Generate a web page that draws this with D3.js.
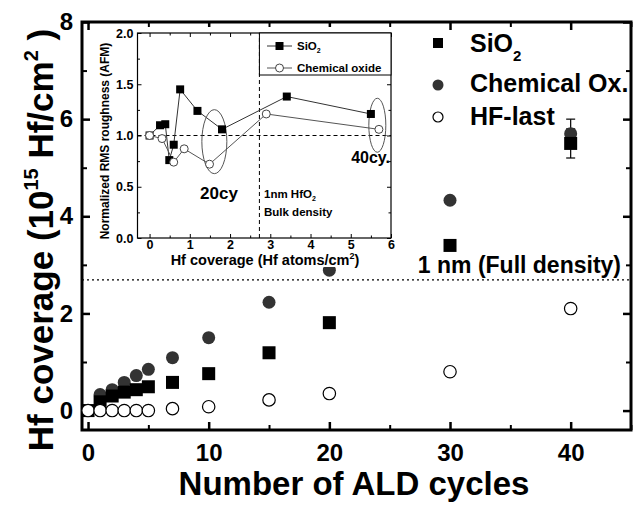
<!DOCTYPE html>
<html lang="en">
<head>
<meta charset="utf-8">
<style>
body { margin: 0; background: #fff; }
text { font-family: "Liberation Sans", Arial, sans-serif; font-weight: bold; fill: #000; }
.frame { fill: none; stroke: #000; stroke-width: 3px; }
.tick line { stroke: #000; }
.domain { display: none; }
</style>
</head>
<body>
<svg width="637" height="505"></svg>
<script src="https://d3js.org/d3.v7.min.js"></script>
<script>

// main chart data: Hf coverage (1e15 Hf/cm2) vs number of ALD cycles
var cycles = [0, 1, 2, 3, 4, 5, 7, 10, 15, 20, 30, 40];
var sio2   = [0, 0.18, 0.30, 0.38, 0.43, 0.49, 0.58, 0.76, 1.19, 1.81, 3.40, 5.50];
var chemOx = [0, 0.33, 0.43, 0.58, 0.72, 0.85, 1.09, 1.50, 2.23, 2.89, 4.33, 5.70];
var hfLast = [0, 0, 0, 0, 0, 0, 0.04, 0.08, 0.22, 0.35, 0.80, 2.10];
var errCycle = 40, sio2Err = 0.3, chemErr = 0.3;
var fullDensity = 2.69;
var xTicks = [0, 10, 20, 30, 40];
var yTicks = [0, 2, 4, 6, 8];

// inset data: normalized RMS roughness vs Hf coverage
var inSio2X = [0, 0.26, 0.39, 0.49, 0.60, 0.76, 1.19, 1.80, 3.41, 5.50];
var inSio2Y = [1.00, 1.10, 1.11, 0.76, 0.91, 1.45, 1.24, 1.06, 1.38, 1.21];
var inChemX = [0, 0.31, 0.60, 0.86, 1.49, 2.90, 5.70];
var inChemY = [1.00, 0.97, 0.74, 0.87, 0.72, 1.21, 1.06];
var bulkDensity = 2.73;
var inXTicks = [0, 1, 2, 3, 4, 5, 6];
var inYTicks = [0, 0.5, 1.0, 1.5, 2.0];

var svg = d3.select("svg");

var x = d3.scaleLinear().domain([-0.5, 45]).range([82, 631]);
var y = d3.scaleLinear().domain([-0.4, 8]).range([430, 22]);

// ticks, inward, on all four sides
function ticks(axis, tr, major, minor, labels) {
  var g = svg.append("g").attr("transform", tr).call(axis.tickValues(major).tickSize(-8).tickFormat(labels ? d3.format("d") : ""));
  g.selectAll("line").attr("stroke-width", 2.5);
  g.selectAll("text").attr("font-size", 24).attr("font-weight", "bold").attr("font-family", "Liberation Sans, Arial");
  var m = svg.append("g").attr("transform", tr).call(axis.tickValues(minor).tickSize(-5).tickFormat(""));
  m.selectAll("line").attr("stroke-width", 2);
  return g;
}
var gx = ticks(d3.axisBottom(x), "translate(0,430)", xTicks, [5, 15, 25, 35, 45], true);
gx.selectAll("text").attr("dy", "0").attr("y", 31);
ticks(d3.axisTop(x), "translate(0,22)", xTicks, [5, 15, 25, 35, 45], false);
var gy = ticks(d3.axisLeft(y), "translate(82,0)", yTicks, [1, 3, 5, 7], true);
gy.selectAll("text").attr("x", -9);
ticks(d3.axisRight(y), "translate(631,0)", yTicks, [1, 3, 5, 7], false);

svg.append("rect").attr("class", "frame")
  .attr("x", 82).attr("y", 22).attr("width", 631 - 82).attr("height", 430 - 22);

// full density line
svg.append("line")
  .attr("x1", 82).attr("x2", 631)
  .attr("y1", y(fullDensity)).attr("y2", y(fullDensity))
  .attr("stroke", "#000").attr("stroke-width", 1.2).attr("stroke-dasharray", "2,3");
svg.append("text").attr("x", 621).attr("y", 273).attr("text-anchor", "end")
  .attr("font-size", 23).text("1 nm (Full density)");

// error bars at 40 cycles
[[chemOx, chemErr], [sio2, sio2Err]].forEach(function(s) {
  var v = s[0][cycles.indexOf(errCycle)], e = s[1], cx = x(errCycle);
  var g = svg.append("g").attr("stroke", "#000").attr("stroke-width", 1.2);
  g.append("line").attr("x1", cx).attr("x2", cx).attr("y1", y(v - e)).attr("y2", y(v + e));
  g.append("line").attr("x1", cx - 4.5).attr("x2", cx + 4.5).attr("y1", y(v - e)).attr("y2", y(v - e));
  g.append("line").attr("x1", cx - 4.5).attr("x2", cx + 4.5).attr("y1", y(v + e)).attr("y2", y(v + e));
});

// points
svg.append("g").selectAll("circle").data(cycles).enter().append("circle")
  .attr("cx", function(d) { return x(d); })
  .attr("cy", function(d, i) { return y(chemOx[i]); })
  .attr("r", 6.5).attr("fill", "#333");
svg.append("g").selectAll("rect").data(cycles).enter().append("rect")
  .attr("x", function(d) { return x(d) - 6.5; })
  .attr("y", function(d, i) { return y(sio2[i]) - 6.5; })
  .attr("width", 13).attr("height", 13).attr("fill", "#000");
svg.append("g").selectAll("circle").data(cycles).enter().append("circle")
  .attr("cx", function(d) { return x(d); })
  .attr("cy", function(d, i) { return y(hfLast[i]); })
  .attr("r", 6.2).attr("fill", "#fff").attr("stroke", "#000").attr("stroke-width", 1.2);

// legend
var leg = svg.append("g");
leg.append("rect").attr("x", 433).attr("y", 38).attr("width", 10).attr("height", 10).attr("fill", "#000");
leg.append("circle").attr("cx", 438).attr("cy", 85).attr("r", 5.5).attr("fill", "#333");
leg.append("circle").attr("cx", 438).attr("cy", 117).attr("r", 5).attr("fill", "#fff").attr("stroke", "#000").attr("stroke-width", 1.2);
var t1 = leg.append("text").attr("x", 470).attr("y", 52).attr("font-size", 25);
t1.append("tspan").text("SiO");
t1.append("tspan").attr("font-size", 15).attr("dy", 9).text("2");
leg.append("text").attr("x", 470).attr("y", 92).attr("font-size", 25).text("Chemical Ox.");
leg.append("text").attr("x", 470).attr("y", 125).attr("font-size", 25).text("HF-last");

// axis titles
svg.append("text").attr("x", 354).attr("y", 495).attr("text-anchor", "middle")
  .attr("font-size", 33).text("Number of ALD cycles");
var yt = svg.append("text").attr("transform", "translate(53,240) rotate(-90)")
  .attr("text-anchor", "middle").attr("font-size", 35);
yt.append("tspan").text("Hf coverage (10");
yt.append("tspan").attr("font-size", 20).attr("dy", -15).text("15");
yt.append("tspan").attr("dy", 15).text(" Hf/cm");
yt.append("tspan").attr("font-size", 20).attr("dy", -15).text("2");
yt.append("tspan").attr("dy", 15).text(" )");

// ---------- inset ----------
var ix = d3.scaleLinear().domain([-0.3, 6]).range([137.5, 391]);
var iy = d3.scaleLinear().domain([0, 2]).range([238, 33]);

svg.append("rect").attr("x", 94).attr("y", 27).attr("width", 301).attr("height", 240).attr("fill", "#fff");

function iticks(axis, tr, major, minor, fmt) {
  var g = svg.append("g").attr("transform", tr).call(axis.tickValues(major).tickSize(-4).tickFormat(fmt));
  g.selectAll("line").attr("stroke-width", 1);
  g.selectAll("text").attr("font-size", 12.5).attr("font-weight", "bold").attr("font-family", "Liberation Sans, Arial");
  svg.append("g").attr("transform", tr).call(axis.tickValues(minor).tickSize(-2.5).tickFormat(""))
    .selectAll("line").attr("stroke-width", 1);
  return g;
}
var ixg = iticks(d3.axisBottom(ix), "translate(0,238)", inXTicks, [0.5, 1.5, 2.5, 3.5, 4.5, 5.5], d3.format("d"));
ixg.selectAll("text").attr("dy", 0).attr("y", 11);
iticks(d3.axisTop(ix), "translate(0,33)", inXTicks, [0.5, 1.5, 2.5, 3.5, 4.5, 5.5], "");
var iyg = iticks(d3.axisLeft(iy), "translate(137.5,0)", inYTicks, [0.25, 0.75, 1.25, 1.75], d3.format(".1f"));
iyg.selectAll("text").attr("x", -4);
iticks(d3.axisRight(iy), "translate(391,0)", inYTicks, [0.25, 0.75, 1.25, 1.75], "");

svg.append("rect").attr("x", 137.5).attr("y", 33).attr("width", 391 - 137.5).attr("height", 238 - 33)
  .attr("fill", "none").attr("stroke", "#000").attr("stroke-width", 1.2);

// reference lines
svg.append("line").attr("x1", 137.5).attr("x2", 391).attr("y1", iy(1)).attr("y2", iy(1))
  .attr("stroke", "#000").attr("stroke-width", 1).attr("stroke-dasharray", "4,3");
svg.append("line").attr("x1", ix(bulkDensity)).attr("x2", ix(bulkDensity)).attr("y1", 238).attr("y2", 33)
  .attr("stroke", "#000").attr("stroke-width", 1).attr("stroke-dasharray", "4,3");

var iline = d3.line().x(function(d) { return ix(d[0]); }).y(function(d) { return iy(d[1]); });
svg.append("path").datum(d3.zip(inSio2X, inSio2Y)).attr("d", iline)
  .attr("fill", "none").attr("stroke", "#333").attr("stroke-width", 1);
svg.append("path").datum(d3.zip(inChemX, inChemY)).attr("d", iline)
  .attr("fill", "none").attr("stroke", "#555").attr("stroke-width", 1);

// ellipses
svg.append("ellipse").attr("cx", ix(1.61)).attr("cy", iy(0.94)).attr("rx", 12.5).attr("ry", 32)
  .attr("fill", "none").attr("stroke", "#555").attr("stroke-width", 1);
svg.append("ellipse").attr("cx", ix(5.66)).attr("cy", iy(1.10)).attr("rx", 8.5).attr("ry", 27)
  .attr("fill", "none").attr("stroke", "#555").attr("stroke-width", 1);

svg.append("g").selectAll("rect").data(d3.zip(inSio2X, inSio2Y)).enter().append("rect")
  .attr("x", function(d) { return ix(d[0]) - 4; })
  .attr("y", function(d) { return iy(d[1]) - 4; })
  .attr("width", 8).attr("height", 8).attr("fill", "#000");
svg.append("g").selectAll("circle").data(d3.zip(inChemX, inChemY)).enter().append("circle")
  .attr("cx", function(d) { return ix(d[0]); })
  .attr("cy", function(d) { return iy(d[1]); })
  .attr("r", 4).attr("fill", "#fff").attr("stroke", "#444").attr("stroke-width", 1);

// inset legend
svg.append("rect").attr("x", ix(bulkDensity)).attr("y", 33).attr("width", 391 - ix(bulkDensity)).attr("height", 42)
  .attr("fill", "#fff").attr("stroke", "#000").attr("stroke-width", 1);
svg.append("line").attr("x1", 267).attr("x2", 292).attr("y1", 46).attr("y2", 46).attr("stroke", "#333");
svg.append("rect").attr("x", 275.5).attr("y", 42).attr("width", 8).attr("height", 8).attr("fill", "#000");
svg.append("line").attr("x1", 267).attr("x2", 292).attr("y1", 68).attr("y2", 68).attr("stroke", "#555");
svg.append("circle").attr("cx", 279.5).attr("cy", 68).attr("r", 4).attr("fill", "#fff").attr("stroke", "#444");
var lt = svg.append("text").attr("x", 297).attr("y", 50).attr("font-size", 11.5);
lt.append("tspan").text("SiO");
lt.append("tspan").attr("font-size", 7).attr("dy", 3).text("2");
svg.append("text").attr("x", 297).attr("y", 72).attr("font-size", 11.5).text("Chemical oxide");

// annotations
svg.append("text").attr("x", 219).attr("y", 199).attr("text-anchor", "middle").attr("font-size", 17).text("20cy");
svg.append("text").attr("x", 390).attr("y", 163).attr("text-anchor", "end").attr("font-size", 16).text("40cy.");
var nm = svg.append("text").attr("x", 264).attr("y", 198).attr("font-size", 11.5);
nm.append("tspan").text("1nm HfO");
nm.append("tspan").attr("font-size", 7).attr("dy", 3).text("2");
svg.append("text").attr("x", 264).attr("y", 216).attr("font-size", 11.5).text("Bulk density");

// inset axis titles
svg.append("text").attr("transform", "translate(109,141) rotate(-90)").attr("text-anchor", "middle")
  .attr("font-size", 12).text("Normalized RMS roughness (AFM)");
var it = svg.append("text").attr("x", 265).attr("y", 265).attr("text-anchor", "middle").attr("font-size", 14.5);
it.append("tspan").text("Hf coverage (Hf atoms/cm");
it.append("tspan").attr("font-size", 9).attr("dy", -6).text("2");
it.append("tspan").attr("dy", 6).text(")");

</script>
</body>
</html>
